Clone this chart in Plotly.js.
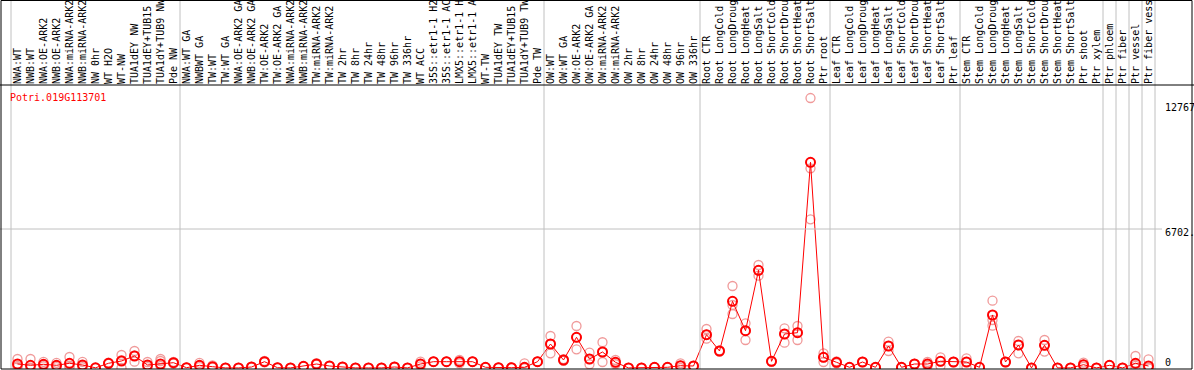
<!DOCTYPE html>
<html><head><meta charset="utf-8">
<script src="https://cdn.plot.ly/plotly-3.0.1.min.js"></script>
<style>html,body{margin:0;padding:0;background:#fff;overflow:hidden}#chart{width:1194px;height:370px}</style>
</head><body><div id="chart"></div>
<script>
const labels = [
"NWA:WT","NWB:WT","NWA:OE-ARK2","NWB:OE-ARK2","NWA:miRNA-ARK2","NWB:miRNA-ARK2","NW 0hr","WT H2O","WT-NW","TUA1dEY NW","TUA1dEY+TUB15","TUA1dY+TUB9 NW","Pde NW",
"NWA:WT GA","NWBWT GA","TW:WT","TW:WT GA","NWA:OE-ARK2 GA","NWB:OE-ARK2 GA","TW:OE-ARK2","TW:OE-ARK2 GA","NWA:miRNA-ARK2","NWB:miRNA-ARK2","TW:miRNA-ARK2","TW:miRNA-ARK2","TW 2hr","TW 8hr","TW 24hr","TW 48hr","TW 96hr","TW 336hr","WT ACC","35S::etr1-1 H2","35S::etr1-1 AC","LMX5::etr1-1 H","LMX5::etr1-1 A","WT-TW","TUA1dEY TW","TUA1dEY+TUB15","TUA1dY+TUB9 TW","Pde TW",
"OW:WT","OW:WT GA","OW:OE-ARK2","OW:OE-ARK2 GA","OW:miRNA-ARK2","OW:miRNA-ARK2","OW 2hr","OW 8hr","OW 24hr","OW 48hr","OW 96hr","OW 336hr",
"Root CTR","Root LongCold","Root LongDroug","Root LongHeat","Root LongSalt","Root ShortCold","Root ShortDrou","Root ShortHeat","Root ShortSalt","Ptr root",
"Leaf CTR","Leaf LongCold","Leaf LongDroug","Leaf LongHeat","Leaf LongSalt","Leaf ShortCold","Leaf ShortDrou","Leaf ShortHeat","Leaf ShortSalt","Ptr leaf",
"Stem CTR","Stem LongCold","Stem LongDroug","Stem LongHeat","Stem LongSalt","Stem ShortCold","Stem ShortDrou","Stem ShortHeat","Stem ShortSalt","Ptr shoot","Ptr xylem",
"Ptr phloem","Ptr fiber","Ptr vessel","Ptr fiber vess"
];
const meanValues = [
193,130,178,130,227,145,10,227,338,579,145,193,256,
15,130,63,5,5,48,304,15,5,82,193,96,48,5,5,5,48,5,193,304,304,304,304,34,15,15,34,304,
1157,386,1480,434,772,275,5,5,34,34,111,96,
1606,820,3216,1799,4711,323,1639,1702,9919,516,
275,34,289,34,1061,34,193,193,323,289,
289,34,2556,289,1109,5,1095,5,5,159,5,
130,5,227,96
];
const rep1 = [
434,434,300,250,530,300,10,260,627,820,290,434,300,
15,250,130,5,5,48,340,15,5,82,230,96,48,5,5,5,48,5,304,304,304,386,304,34,15,15,227,304,
1543,430,2025,738,1241,386,5,5,34,34,227,96,
1881,850,3954,2155,4967,340,1914,2025,13018,709,
320,34,289,34,1270,34,193,290,516,289,
467,34,3245,289,1302,5,1350,5,5,256,5,
130,5,579,419
];
const rep2 = [
100,0,150,100,100,100,10,227,380,610,100,338,256,
15,100,40,5,5,48,304,15,5,82,193,96,48,5,5,5,48,5,193,304,304,304,304,34,15,15,0,304,
1157,386,1480,434,772,275,5,5,34,34,111,96,
1606,820,3038,1799,4711,323,1639,1702,9630,516,
275,34,289,34,1061,34,193,193,323,289,
289,34,2314,289,1109,5,1095,5,5,159,5,
130,5,100,0
];
const rep3 = [
45,0,85,40,50,35,10,195,5,304,45,100,210,
15,40,20,5,5,48,270,15,5,82,160,96,48,5,5,5,48,5,82,304,304,220,304,34,15,15,0,304,
710,340,900,180,290,180,5,5,34,34,0,96,
1413,790,2604,1350,4450,300,1221,1350,7171,289,
227,34,289,34,820,34,193,96,96,289,
38,34,2040,289,709,5,790,5,5,60,5,
130,5,0,0
];
const groupBounds = [0,13,41,53,63,73,84,85,86,87,88];
const yTickValues = [0, 6702, 12767];
const yTickText = ["0","6702.","12767"];
const geneName = "Potri.019G113701";

const idx = labels.map((_, i) => i);
const W = 1194, H = 370, L = 11, R = 1155, T = 85, B = 369;
const yRange = [-48.2, 13646];
const px2x = px => (px - L) / (R - L);
const px2y = py => (B - py) / (B - T);
const v2y = v => (v - yRange[0]) / (yRange[1] - yRange[0]);
const mono = 'DejaVu Sans Mono, Liberation Mono, monospace';

const faded = '#f09a9a';
const traces = [rep1, rep2, rep3].map(r => ({
  x: idx, y: r, type: 'scatter', mode: 'markers', hoverinfo: 'skip',
  marker: {symbol: 'circle-open', size: 9, color: faded, line: {width: 1.3, color: faded}}
}));
traces.push({
  x: idx, y: meanValues, type: 'scatter', mode: 'lines+markers',
  line: {color: '#ff0000', width: 1},
  marker: {symbol: 'circle-open', size: 9, color: '#ff0000', line: {width: 2, color: '#ff0000'}}
});

const shapes = [];
groupBounds.forEach(k => {
  const xp = k / labels.length;
  shapes.push({type: 'line', xref: 'paper', yref: 'paper', x0: xp, x1: xp, y0: 0, y1: px2y(0),
    line: {color: '#c0c0c0', width: 1}});
});
shapes.push({type: 'line', xref: 'paper', yref: 'paper', x0: px2x(0), x1: px2x(1162),
  y0: v2y(yTickValues[1]), y1: v2y(yTickValues[1]), line: {color: '#c0c0c0', width: 1}});
shapes.push({type: 'line', xref: 'paper', yref: 'paper', x0: px2x(0), x1: px2x(W), y0: 1, y1: 1,
  line: {color: '#000', width: 1}});
shapes.push({type: 'rect', xref: 'paper', yref: 'paper', x0: px2x(1), x1: px2x(1192), y0: px2y(B), y1: px2y(0.5),
  line: {color: '#000', width: 1}});

const yShifts = [6, -3, -4];
const annotations = yTickValues.map((v, i) => ({
  xref: 'paper', yref: 'y', x: px2x(1163), y: v, text: yTickText[i], showarrow: false,
  xanchor: 'left', yanchor: 'middle', yshift: yShifts[i], font: {family: mono, size: 10, color: '#000'}
}));
annotations.push({xref: 'paper', yref: 'paper', x: px2x(8), y: px2y(97), text: geneName, showarrow: false,
  xanchor: 'left', yanchor: 'middle', font: {family: mono, size: 10, color: '#ff0000'}});

const layout = {
  width: W, height: H, margin: {l: L, r: W - R, t: T, b: H - B, pad: 0},
  paper_bgcolor: '#fff', plot_bgcolor: '#fff', showlegend: false,
  xaxis: {range: [-0.5, labels.length - 0.5], tickmode: 'array', tickvals: idx, ticktext: labels,
    side: 'top', tickangle: -90, ticks: '', showgrid: false, zeroline: false, showline: false,
    tickfont: {family: mono, size: 10, color: '#000'}, fixedrange: true},
  yaxis: {range: yRange, showticklabels: false, showgrid: false, zeroline: false, showline: false, fixedrange: true},
  shapes: shapes, annotations: annotations
};
Plotly.newPlot('chart', traces, layout, {displayModeBar: false, staticPlot: true});
</script></body></html>
